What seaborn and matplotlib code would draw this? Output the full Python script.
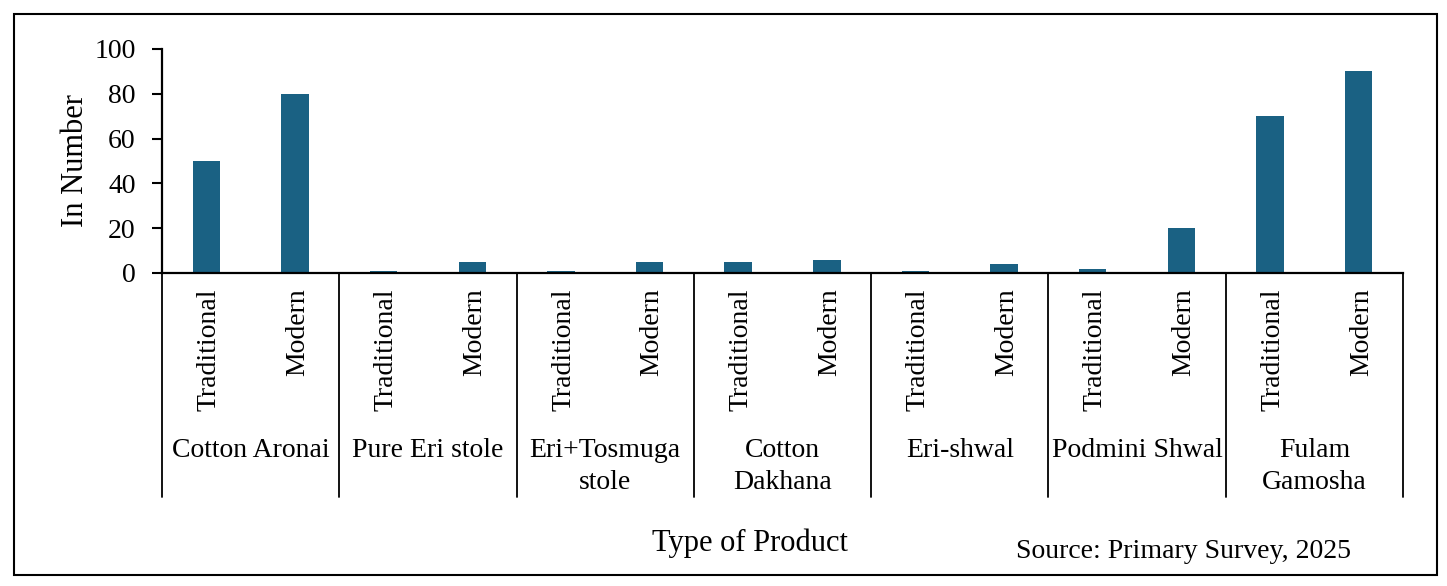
#----------- Module -----------#
import numpy as np
import pandas as pd
import matplotlib.pyplot as plt
import seaborn as sns
from matplotlib.patches import Rectangle
import matplotlib.transforms as mtransforms

#----------- Daten -----------#
products = ['Cotton Aronai', 'Pure Eri stole', 'Eri+Tosmuga\nstole', 'Cotton\nDakhana',
            'Eri-shwal', 'Podmini Shwal', 'Fulam\nGamosha']
types = ['Traditional', 'Modern']
traditional = [50, 1, 1, 5, 1, 2, 70]
modern = [80, 5, 5, 6, 4, 20, 90]

rows = []
for i, p in enumerate(products):
    rows.append({'slot': '%d_T' % i, 'product': p, 'type': 'Traditional', 'value': traditional[i]})
    rows.append({'slot': '%d_M' % i, 'product': p, 'type': 'Modern', 'value': modern[i]})
df = pd.DataFrame(rows)

#----------- Plot -----------#
sns.set_style('white')
plt.rcParams['font.family'] = ['Liberation Serif', 'DejaVu Serif']
plt.rcParams['text.color'] = 'black'
plt.rcParams['axes.labelcolor'] = 'black'
plt.rcParams['xtick.color'] = 'black'
plt.rcParams['ytick.color'] = 'black'

fig = plt.figure(figsize=(14.47, 5.86), dpi=100)
ax = fig.add_axes([162/1447, 1 - 273/586, (1403-162)/1447, (273-49)/586])

sns.barplot(data=df, x='slot', y='value', color='#1a6183', width=0.31,
            saturation=1, ax=ax, errorbar=None, linewidth=0, zorder=3)

ax.set_ylim(0, 100)
ax.set_xlim(-0.5, len(df) - 0.5)
ax.set_yticks(np.arange(0, 101, 20))
ax.tick_params(axis='y', labelsize=20, length=7, width=1.5, direction='out', left=True, pad=12)
ax.tick_params(axis='x', length=0, bottom=False)
ax.set_xticks(range(len(df)))
ax.set_xticklabels([])
ax.set_xlabel('')
ax.set_ylabel('In Number', fontsize=22, labelpad=3)
for s in ['top', 'right']:
    ax.spines[s].set_visible(False)
for s in ['left', 'bottom']:
    ax.spines[s].set_linewidth(1.6)
    ax.spines[s].set_color('black')
    ax.spines[s].set_zorder(4)

#Mehrstufige Achse
trans = mtransforms.blended_transform_factory(ax.transData, ax.transAxes)
for k, t in enumerate(df['type']):
    ax.text(k + 0.03, -0.07, t, rotation=90, ha='center', va='top', fontsize=20, transform=trans)
for i, p in enumerate(products):
    ax.text(2*i + 0.5, -0.735, p, ha='center', va='top', fontsize=20, transform=trans,
            linespacing=1.4)
for b in range(len(products) + 1):
    ax.plot([2*b - 0.5, 2*b - 0.5], [0, -1.0], color='black', lw=1.3,
            transform=trans, clip_on=False)

fig.text(750/1447, 1 - 543/586, 'Type of Product', ha='center', va='center', fontsize=22)
fig.text(1183/1447, 1 - 552/586, 'Source: Primary Survey, 2025', ha='center', va='center', fontsize=20)

#Rahmen
fig.patches.append(Rectangle((14/1447, 1 - 575/586), (1437-14)/1447, (575-14)/586,
                             transform=fig.transFigure, fill=False, edgecolor='black', lw=1.5))

fig.savefig('out.png', dpi=100)
